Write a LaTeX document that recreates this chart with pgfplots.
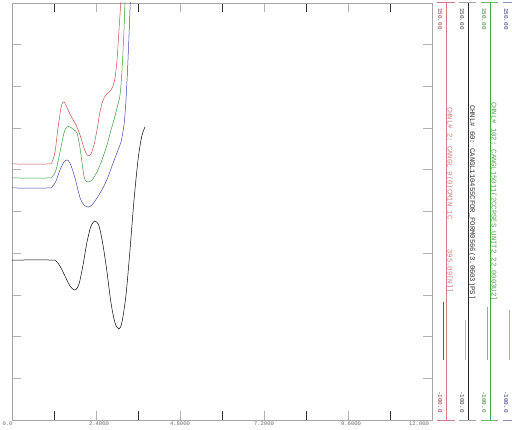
\documentclass[border=0pt]{standalone}
\usepackage{fontspec}
\setmonofont{Liberation Mono}
\usepackage{pgfplots}
\pgfplotsset{compat=1.18}

\definecolor{cred}{HTML}{C85050}
\definecolor{cgreen}{HTML}{3C9C3C}
\definecolor{cblue}{HTML}{4848A8}
\definecolor{lred}{HTML}{D08080}
\definecolor{lgreen}{HTML}{50A050}
\definecolor{lblue}{HTML}{7070A8}

\newcommand{\numfont}{\ttfamily\fontsize{6}{6}\selectfont}
\newcommand{\namefont}{\ttfamily\fontsize{7.2}{7.2}\selectfont}

\begin{document}
\begin{tikzpicture}[x=1pt,y=1pt]
\useasboundingbox (-12,-9) rectangle (500,420);
\begin{axis}[at={(0,0)},anchor=south west,scale only axis,
  width=420pt,height=417pt,
  xmin=0,xmax=12,ymin=-100,ymax=150,
  xtick={0,2.4,4.8,7.2,9.6,12},
  xticklabels={\texttt{0.0}\hspace*{9pt},\texttt{2.4000}\hspace*{-6pt},\texttt{4.8000},\texttt{7.2000},\texttt{9.6000}\hspace*{-6pt},\texttt{12.000}\hspace*{26pt}},
  minor xtick={1.2,3.6,6,8.4,10.8},
  ytick={-100,-75,...,150},yticklabels={},
  tick align=inside,major tick length=9pt,minor tick length=9pt,
  axis line style={draw=gray!70},
  major tick style={gray!60,line width=0.6pt},
  minor tick style={black!80,line width=0.6pt},
  xticklabel style={font=\ttfamily\fontsize{5.5}{5.5}\selectfont,text=gray!80!black,inner sep=0pt,yshift=-1.5pt},
]
% red channel
\addplot[cred,line width=0.5pt,smooth,tension=0.5] coordinates {
(0,53.5) (1.029,53.5) (1.143,54.7) (1.229,60.7) (1.314,75.1) (1.4,87.1)
(1.457,90.6) (1.514,90.0) (1.6,85.9) (1.714,81.1) (1.829,76.9) (1.943,70.9)
(2.057,63.1) (2.143,58.9) (2.2,58.3) (2.257,59.5) (2.343,64.9) (2.429,73.9)
(2.514,84.7) (2.6,91.8) (2.686,94.8) (2.8,97.2) (2.886,100.2) (2.943,105.0)
(3.0,115.8) (3.057,133.8) (3.114,151.8) (3.143,160.8)};
% green channel
\addplot[cgreen,line width=0.5pt,smooth,tension=0.5] coordinates {
(0,45.1) (1.029,45.1) (1.143,45.7) (1.257,49.9) (1.371,60.7) (1.486,72.1)
(1.571,75.7) (1.657,75.7) (1.771,73.9) (1.857,72.1) (1.943,63.1) (2.029,49.9)
(2.086,43.9) (2.171,42.7) (2.286,43.9) (2.429,48.7) (2.571,55.9) (2.714,64.9)
(2.829,73.9) (2.914,79.9) (3.0,87.1) (3.086,94.8) (3.143,109.8) (3.2,133.8)
(3.229,151.8) (3.257,160.8)};
% blue channel
\addplot[cblue,line width=0.5pt,smooth,tension=0.5] coordinates {
(0,39.1) (1.029,39.1) (1.143,39.7) (1.257,43.3) (1.371,49.9) (1.486,54.7)
(1.571,55.9) (1.657,54.1) (1.8,45.1) (1.943,33.3) (2.057,28.9) (2.171,27.7)
(2.286,28.9) (2.429,33.1) (2.6,39.1) (2.743,45.7) (2.857,52.3) (2.943,57.1)
(3.029,61.9) (3.114,66.7) (3.2,76.9) (3.257,91.8) (3.314,115.8) (3.371,145.8)
(3.4,160.8)};
% black channel
\addplot[black,line width=0.5pt,smooth,tension=0.5] coordinates {
(0,-4.1) (1.143,-4.1) (1.257,-4.7) (1.371,-7.7) (1.514,-13.7) (1.657,-19.7)
(1.8,-22.1) (1.914,-18.5) (2.029,-7.1) (2.143,6.7) (2.257,16.3) (2.371,19.3)
(2.486,16.3) (2.6,4.9) (2.714,-11.3) (2.829,-29.9) (2.943,-41.8) (3.057,-45.4)
(3.143,-41.2) (3.257,-25.0) (3.371,1.9) (3.486,31.9) (3.6,55.9) (3.686,67.9)
(3.743,72.7) (3.8,75.7)};
\end{axis}

% channel scale columns on the right
% red
\draw[lred,line width=0.5pt] (434,0) -- (434,418);
\draw[lred,line width=0.5pt] (425,418) -- (443,418) (425,0) -- (443,0);
\node[rotate=-90,anchor=west,inner sep=0pt,font=\numfont,text=cred!70!black] at (428,412) {150.00};
\node[rotate=-90,anchor=east,inner sep=0pt,font=\numfont,text=cred!70!black] at (428,7) {-100.0};
\node[rotate=-90,anchor=west,inner sep=0pt,font=\namefont,text=lred] at (437.5,313) {CHNL\# 2: CANGL 9(0)CMIN\_1C\hspace{30pt}395.09[N]]};
\draw[cred!80!black,line width=0.7pt] (431,118) -- (431,60);
% black
\draw[black!85,line width=0.5pt] (456,0) -- (456,418);
\draw[gray!70,line width=0.5pt] (447,418) -- (464,418) (447,0) -- (464,0);
\node[rotate=-90,anchor=west,inner sep=0pt,font=\numfont,text=black!75] at (450,412) {150.00};
\node[rotate=-90,anchor=east,inner sep=0pt,font=\numfont,text=black!75] at (450,7) {-100.0};
\node[rotate=-90,anchor=west,inner sep=0pt,font=\namefont,text=black!80] at (460,315) {CHNL\# 60: CANGL110455CFOR\_FORM0566(3.0603)PS]};
\draw[gray!55,line width=0.7pt] (453,100) -- (453,60);
% green
\draw[lgreen,line width=0.5pt] (478,0) -- (478,418);
\draw[lgreen!80,line width=0.5pt] (469,418) -- (486,418) (469,0) -- (486,0);
\node[rotate=-90,anchor=west,inner sep=0pt,font=\numfont,text=cgreen!80!black] at (472,412) {150.00};
\node[rotate=-90,anchor=east,inner sep=0pt,font=\numfont,text=cgreen!80!black] at (472,7) {-100.0};
\node[rotate=-90,anchor=west,inner sep=0pt,font=\namefont,text=lgreen] at (481.5,318) {CHNL\# 102: CANGL15011(2CCPSES\_UNIT2 22.0003U2]};
\draw[cgreen!50!gray!70,line width=0.7pt] (475,113) -- (475,60);
% blue
\draw[lblue,line width=0.5pt] (500,0) -- (500,418);
\draw[lblue!80,line width=0.5pt] (491,418) -- (508,418) (491,0) -- (508,0);
\node[rotate=-90,anchor=west,inner sep=0pt,font=\numfont,text=cblue!70!black] at (494,412) {150.00};
\node[rotate=-90,anchor=east,inner sep=0pt,font=\numfont,text=cblue!70!black] at (494,7) {-100.0};
\draw[lblue!60,line width=0.7pt] (497,110) -- (497,60);
\end{tikzpicture}
\end{document}
